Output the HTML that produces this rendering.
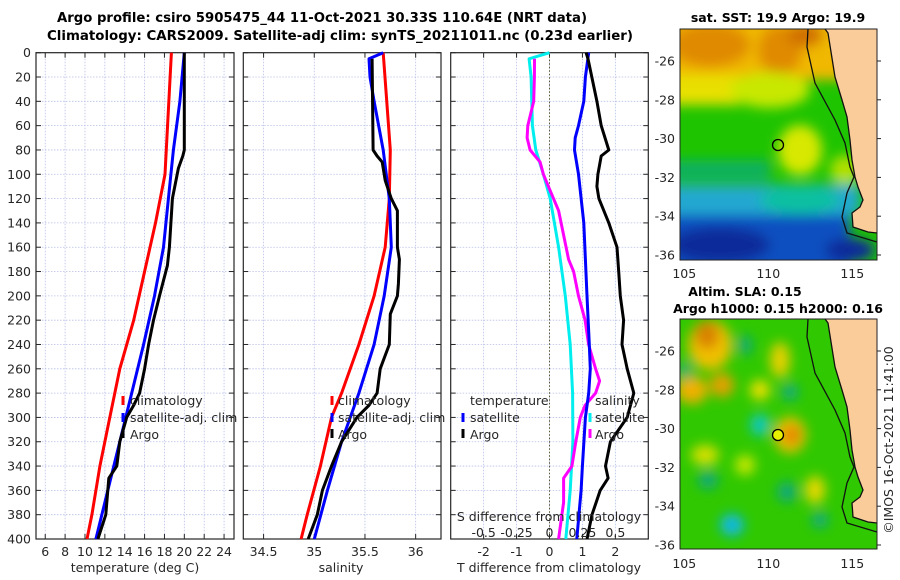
<!DOCTYPE html>
<html><head><meta charset="utf-8">
<style>
html,body{margin:0;padding:0;background:#fff;}
svg{display:block;font-family:"DejaVu Sans","Liberation Sans",sans-serif;}
</style></head>
<body>
<svg id="fig" width="900" height="580" viewBox="0 0 900 580" xmlns="http://www.w3.org/2000/svg">
<defs>
 <filter id="blur1" x="-20%" y="-20%" width="140%" height="140%"><feGaussianBlur stdDeviation="6"/></filter>
 <filter id="blur2" x="-20%" y="-20%" width="140%" height="140%"><feGaussianBlur stdDeviation="6"/></filter>
 <clipPath id="clipMap1"><rect x="680" y="29" width="197" height="231"/></clipPath>
 <clipPath id="clipMap2"><rect x="680" y="319" width="197" height="230"/></clipPath>
</defs>
<text x="322" y="22" text-anchor="middle" font-size="13" font-weight="bold" textLength="530" lengthAdjust="spacingAndGlyphs">Argo profile: csiro 5905475_44 11-Oct-2021 30.33S 110.64E (NRT data)</text>
<text x="340" y="40" text-anchor="middle" font-size="13" font-weight="bold" textLength="586" lengthAdjust="spacingAndGlyphs">Climatology: CARS2009. Satellite-adj clim: synTS_20211011.nc (0.23d earlier)</text>

<!-- Map 1: SST -->
<g clip-path="url(#clipMap1)">
 <rect x="680" y="29" width="197" height="231" fill="#1fc400"/>
 <g filter="url(#blur1)">
  <rect x="660" y="10" width="200" height="70" fill="#f0b800"/>
  <ellipse cx="710" cy="45" rx="40" ry="22" fill="#e08a00"/>
  <ellipse cx="780" cy="50" rx="22" ry="25" fill="#e08a00"/>
  <ellipse cx="805" cy="35" rx="18" ry="12" fill="#d07000"/>
  <rect x="660" y="75" width="80" height="30" fill="#e8e000"/>
  <ellipse cx="770" cy="90" rx="40" ry="18" fill="#c8e800"/>
  <ellipse cx="800" cy="150" rx="22" ry="25" fill="#d8e800"/>
  <ellipse cx="845" cy="170" rx="15" ry="15" fill="#b0e000"/>
  <rect x="660" y="160" width="110" height="20" fill="#10b060"/>
  <rect x="660" y="185" width="200" height="30" fill="#20a8d0"/>
  <ellipse cx="800" cy="200" rx="40" ry="14" fill="#10c0a0"/>
  <rect x="660" y="215" width="190" height="60" fill="#1050c0"/>
  <ellipse cx="720" cy="245" rx="50" ry="18" fill="#0a2a9a"/>
  <ellipse cx="850" cy="250" rx="25" ry="12" fill="#0a2a9a"/>
 </g>
 <polygon points="825,29 828,33 835,77 842,100 847,117 850,140 852,160 855,177 858,187 863,200 860,207 852,213 853,227 868,232 877,233 877,29" fill="#f9cc9a"/>
 <polyline points="808,29 807,47 815,83 835,120 845,143 850,167 854,177 847,193 842,217 847,233 877,242" fill="none" stroke="#111" stroke-width="1.3"/>
 <polyline points="825,29 828,33 835,77 842,100 847,117 850,140 852,160 855,177 858,187 863,200 860,207 852,213 853,227 868,232 877,233" fill="none" stroke="#111" stroke-width="1.3"/>
 <circle cx="778" cy="145" r="5.5" fill="none" stroke="#000" stroke-width="1.3"/>
</g>
<rect x="680" y="29" width="197" height="231" fill="none" stroke="#222" stroke-width="1"/>
<text x="778" y="22" text-anchor="middle" font-size="12.5" font-weight="bold">sat. SST: 19.9 Argo: 19.9</text>

<!-- Map 2: SLA -->
<g clip-path="url(#clipMap2)">
 <rect x="680" y="319" width="197" height="230" fill="#30c800"/>
 <g filter="url(#blur2)">
  <ellipse cx="710" cy="345" rx="22" ry="25" fill="#f0c000"/>
  <ellipse cx="707" cy="335" rx="12" ry="14" fill="#d88000"/>
  <ellipse cx="692" cy="390" rx="16" ry="14" fill="#f0b000"/>
  <ellipse cx="722" cy="385" rx="12" ry="12" fill="#e8a000"/>
  <ellipse cx="780" cy="360" rx="10" ry="18" fill="#e8d000"/>
  <ellipse cx="790" cy="435" rx="16" ry="18" fill="#f0c000"/>
  <ellipse cx="792" cy="435" rx="8" ry="9" fill="#e07800"/>
  <ellipse cx="705" cy="455" rx="14" ry="10" fill="#d8e000"/>
  <ellipse cx="815" cy="490" rx="10" ry="14" fill="#e8d800"/>
  <ellipse cx="745" cy="465" rx="10" ry="10" fill="#c8e800"/>
  <ellipse cx="760" cy="390" rx="10" ry="10" fill="#f0e000"/>
  <ellipse cx="760" cy="425" rx="10" ry="11" fill="#10c8c0"/>
  <ellipse cx="732" cy="525" rx="12" ry="11" fill="#10b8e8"/>
  <ellipse cx="790" cy="392" rx="8" ry="8" fill="#10a890"/>
  <ellipse cx="745" cy="345" rx="7" ry="10" fill="#10a880"/>
  <ellipse cx="685" cy="370" rx="6" ry="8" fill="#10a890"/>
  <ellipse cx="787" cy="492" rx="10" ry="10" fill="#10a880"/>
  <ellipse cx="708" cy="480" rx="10" ry="9" fill="#10a880"/>
  <ellipse cx="820" cy="520" rx="8" ry="8" fill="#10a890"/>
 </g>
 <g transform="translate(0,290)">
  <polygon points="825,29 828,33 835,77 842,100 847,117 850,140 852,160 855,177 858,187 863,200 860,207 852,213 853,227 868,232 877,233 877,29" fill="#f9cc9a"/>
  <polyline points="808,29 807,47 815,83 835,120 845,143 850,167 854,177 847,193 842,217 847,233 877,242" fill="none" stroke="#111" stroke-width="1.3"/>
  <polyline points="825,29 828,33 835,77 842,100 847,117 850,140 852,160 855,177 858,187 863,200 860,207 852,213 853,227 868,232 877,233" fill="none" stroke="#111" stroke-width="1.3"/>
 </g>
 <circle cx="778" cy="435" r="5.5" fill="#e8f000" stroke="#000" stroke-width="1.3"/>
</g>
<rect x="680" y="319" width="197" height="230" fill="none" stroke="#222" stroke-width="1"/>
<text x="745" y="296" text-anchor="middle" font-size="12.5" font-weight="bold">Altim. SLA: 0.15</text>
<text x="778" y="313" text-anchor="middle" font-size="12.5" font-weight="bold">Argo h1000: 0.15 h2000: 0.16</text>
<text transform="translate(893,440) rotate(-90)" text-anchor="middle" font-size="12.5" fill="#262626">©IMOS 16-Oct-2021 11:41:00</text>

<g id="plots"></g>
</svg>
<script>
// ---------- data ----------
const depthTicks = [0,20,40,60,80,100,120,140,160,180,200,220,240,260,280,300,320,340,360,380,400];
const tTicks = [6,8,10,12,14,16,18,20,22,24];
const sTicks = [34.5,35,35.5,36];
const sTickLabels = ["34.5","35","35.5","36"];
const dTTicks = [-2,-1,0,1,2];
const dSTicks = [-0.5,-0.25,0,0.25,0.5];
const dSTickLabels = ["-0.5","-0.25","0","0.25","0.5"];
const latTicks = [-26,-28,-30,-32,-34,-36];
const lonTicks = [105,110,115];

const climTDepth = [0,100,140,180,220,260,300,340,380,400];
const climT      = [18.7,18.05,17.1,16.0,14.9,13.5,12.5,11.5,10.7,10.2];
const satTDepth  = [0,40,80,120,160,200,240,280,320,360,400];
const satT       = [20.0,19.55,18.9,18.4,17.9,17.0,15.9,14.7,13.5,12.3,11.1];
const argoTDepth = [0,80,85,95,120,160,175,200,220,240,260,280,290,300,320,340,350,380,400];
const argoT      = [20.0,20.0,19.85,19.4,18.8,18.5,18.3,17.5,16.9,16.4,16.0,15.5,14.9,14.2,13.5,13.2,12.4,12.1,11.3];

const climSDepth = [0,80,120,160,200,240,280,300,340,380,400];
const climS      = [35.68,35.75,35.74,35.70,35.59,35.44,35.27,35.17,35.06,34.93,34.87];
const satSDepth  = [0,5,20,40,80,120,160,200,240,280,320,360,400];
const satS       = [35.68,35.54,35.55,35.59,35.68,35.74,35.76,35.69,35.59,35.44,35.27,35.13,35.0];
const argoSDepth = [5,80,85,90,105,120,130,160,170,190,200,215,240,260,280,290,300,320,340,360,380,400];
const argoS      = [35.57,35.58,35.62,35.67,35.70,35.76,35.82,35.82,35.84,35.83,35.82,35.75,35.74,35.65,35.62,35.54,35.42,35.27,35.17,35.08,35.03,34.94];

const dTSatDepth  = [0,20,40,60,70,80,100,140,200,240,260,280,300,340,360,400];
const dTSat       = [1.19,1.09,1.04,0.88,0.78,0.76,0.88,1.04,1.14,1.21,1.24,1.19,1.09,1.0,0.96,0.83];
const dTArgoDepth = [0,5,40,60,80,85,100,110,120,140,160,180,200,220,240,260,280,300,320,340,350,360,380,400];
const dTArgo      = [1.11,1.17,1.44,1.57,1.80,1.57,1.47,1.44,1.50,1.80,2.05,2.10,2.15,2.25,2.20,2.36,2.56,2.36,1.85,1.70,1.78,1.54,1.29,1.14];
const dSSatDepth  = [0,5,20,60,80,100,120,160,200,240,280,320,360,400];
const dSSat       = [0,-0.155,-0.14,-0.13,-0.104,-0.046,0.005,0.069,0.12,0.157,0.175,0.178,0.157,0.124];
const dSArgoDepth = [5,20,40,60,70,80,90,100,110,130,150,170,180,200,220,240,260,270,280,290,300,320,340,350,370,380,400];
const dSArgo      = [-0.114,-0.115,-0.12,-0.165,-0.17,-0.147,-0.071,-0.046,-0.008,0.069,0.107,0.145,0.183,0.22,0.27,0.297,0.35,0.38,0.35,0.27,0.234,0.2,0.17,0.107,0.107,0.094,0.069];

// ---------- helpers ----------
const NS = "http://www.w3.org/2000/svg";
const root = document.getElementById('plots');
const FS = 12.5;
function mk(tag, attrs, parent){
  const e = document.createElementNS(NS, tag);
  for (const k in attrs) e.setAttribute(k, attrs[k]);
  (parent||root).appendChild(e);
  return e;
}
const Y0 = 52.7, Y1 = 539;
const yScale = d => Y0 + (d/400)*(Y1-Y0);
function lin(d0,d1,r0,r1){ return v => r0 + (v-d0)/(d1-d0)*(r1-r0); }

const panels = [
  {x0:36, x1:234, name:'temperature-panel'},
  {x0:243.3, x1:441, name:'salinity-panel'},
  {x0:450.7, x1:648.3, name:'difference-panel'}
];
const xT  = lin(5.07,25,36,234);
const xS  = lin(34.30,36.25,243.3,441);
const xDT = lin(-3,3,450.7,648.3);
const xDS = lin(-0.75,0.75,450.7,648.3);

function gridAndFrame(p, xticks, xf){
  const g = mk('g', {});
  
  
  xticks.forEach(v=>{
    const x = xf(v);
    const l = mk('line',{x1:x,x2:x,y1:Y0,y2:Y1,stroke:'#b8bfe8','stroke-width':0.8,'stroke-dasharray':'1.5,1.5'},g);
    
    
    mk('line',{x1:x,x2:x,y1:Y1,y2:Y1-5,stroke:'#262626','stroke-width':1},g);
    mk('line',{x1:x,x2:x,y1:Y0,y2:Y0+5,stroke:'#262626','stroke-width':1},g);
  });
  depthTicks.forEach(d=>{
    const y = yScale(d);
    const l = mk('line',{x1:p.x0,x2:p.x1,y1:y,y2:y,stroke:'#b8bfe8','stroke-width':0.8,'stroke-dasharray':'1.5,1.5'},g);
    
    
    mk('line',{x1:p.x0,x2:p.x0+5,y1:y,y2:y,stroke:'#262626','stroke-width':1},g);
    mk('line',{x1:p.x1,x2:p.x1-5,y1:y,y2:y,stroke:'#262626','stroke-width':1},g);
  });
  mk('rect',{x:p.x0,y:Y0,width:p.x1-p.x0,height:Y1-Y0,fill:'none',stroke:'#262626','stroke-width':1.2},g);
  return g;
}
function series(xs, ds, xf, color, name){
  const pts = xs.map((v,i)=> xf(v).toFixed(1)+','+yScale(ds[i]).toFixed(1)).join(' ');
  const pl = mk('polyline',{points:pts,fill:'none',stroke:color,'stroke-width':3,'stroke-linejoin':'round'});
  
  
}
function text(x,y,str,opts,name){
  const t = mk('text',Object.assign({x:x,y:y,'font-size':FS,fill:'#262626'},opts||{}));
  t.textContent = str;
  
  
  return t;
}
function legendMark(x,y,color){
  const m = mk('line',{x1:x,x2:x,y1:y-5,y2:y+4,stroke:color,'stroke-width':3});
  
  
}

// ---------- panel 1 ----------
gridAndFrame(panels[0], tTicks, xT);
series(climT, climTDepth, xT, '#ff0000', 'climatology-temperature-line');
series(satT, satTDepth, xT, '#0000ff', 'satellite-temperature-line');
series(argoT, argoTDepth, xT, '#000000', 'argo-temperature-line');
depthTicks.forEach(d=>{ text(31, yScale(d)+4.5, String(d), {'text-anchor':'end'}, 'y-tick-label'); });
tTicks.forEach(v=>{ text(xT(v), 556, String(v), {'text-anchor':'middle'}, 'x-tick-label'); });
text(135, 572, 'temperature (deg C)', {'text-anchor':'middle'}, 'x-axis-title-temperature');
legendMark(123,401,'#ff0000'); text(130,405,'climatology',{},'legend-entry-climatology');
legendMark(123,418,'#0000ff'); text(130,422,'satellite-adj. clim',{},'legend-entry-satellite');
legendMark(123,434,'#000000'); text(130,439,'Argo',{},'legend-entry-argo');

// ---------- panel 2 ----------
gridAndFrame(panels[1], sTicks, xS);
series(climS, climSDepth, xS, '#ff0000', 'climatology-salinity-line');
series(satS, satSDepth, xS, '#0000ff', 'satellite-salinity-line');
series(argoS, argoSDepth, xS, '#000000', 'argo-salinity-line');
sTicks.forEach((v,i)=>{ text(xS(v), 556, sTickLabels[i], {'text-anchor':'middle'}, 'x-tick-label'); });
text(341, 572, 'salinity', {'text-anchor':'middle'}, 'x-axis-title-salinity');
legendMark(332,401,'#ff0000'); text(338,405,'climatology',{},'legend-entry-climatology');
legendMark(332,418,'#0000ff'); text(338,422,'satellite-adj. clim',{},'legend-entry-satellite');
legendMark(332,434,'#000000'); text(338,439,'Argo',{},'legend-entry-argo');

// ---------- panel 3 ----------
gridAndFrame(panels[2], dTTicks, xDT);
const zl = mk('line',{x1:xDT(0),x2:xDT(0),y1:Y0,y2:Y1,stroke:'#5a5a30','stroke-width':1,'stroke-dasharray':'1.5,2'});


series(dSSat, dSSatDepth, xDS, '#00eeee', 'satellite-salinity-difference-line');
series(dSArgo, dSArgoDepth, xDS, '#ff00ff', 'argo-salinity-difference-line');
series(dTSat, dTSatDepth, xDT, '#0000ff', 'satellite-temperature-difference-line');
series(dTArgo, dTArgoDepth, xDT, '#000000', 'argo-temperature-difference-line');
dTTicks.forEach(v=>{ text(xDT(v), 556, String(v), {'text-anchor':'middle'}, 'x-tick-label'); });
dSTicks.forEach((v,i)=>{ text(xDS(v), 537, dSTickLabels[i], {'text-anchor':'middle'}, 'top-x-tick-label'); });
text(549, 521, 'S difference from climatology', {'text-anchor':'middle'}, 'secondary-axis-title');
text(549, 572, 'T difference from climatology', {'text-anchor':'middle'}, 'x-axis-title-difference');
text(470,405,'temperature',{},'legend-title-temperature');
legendMark(463,418,'#0000ff'); text(470,422,'satellite',{},'legend-entry-temp-satellite');
legendMark(463,434,'#000000'); text(470,439,'Argo',{},'legend-entry-temp-argo');
text(595,405,'salinity',{},'legend-title-salinity');
legendMark(590,418,'#00eeee'); text(595,422,'satellite',{},'legend-entry-sal-satellite');
legendMark(590,434,'#ff00ff'); text(595,439,'Argo',{},'legend-entry-sal-argo');

// ---------- map axes ----------
const latY1 = lin(-26,-36,61,255);
const latY2 = lin(-26,-36,351,545);
const lonX = lin(105,115,684.3,852.3);
latTicks.forEach(v=>{
  text(675, latY1(v)+4.5, String(v), {'text-anchor':'end'}, 'map1-lat-label');
  text(675, latY2(v)+4.5, String(v), {'text-anchor':'end'}, 'map2-lat-label');
  mk('line',{x1:877,x2:881,y1:latY1(v),y2:latY1(v),stroke:'#262626'});
  mk('line',{x1:877,x2:881,y1:latY2(v),y2:latY2(v),stroke:'#262626'});
});
lonTicks.forEach(v=>{
  text(lonX(v), 278, String(v), {'text-anchor':'middle'}, 'map1-lon-label');
  text(lonX(v), 568, String(v), {'text-anchor':'middle'}, 'map2-lon-label');
});
</script>
</body></html>
